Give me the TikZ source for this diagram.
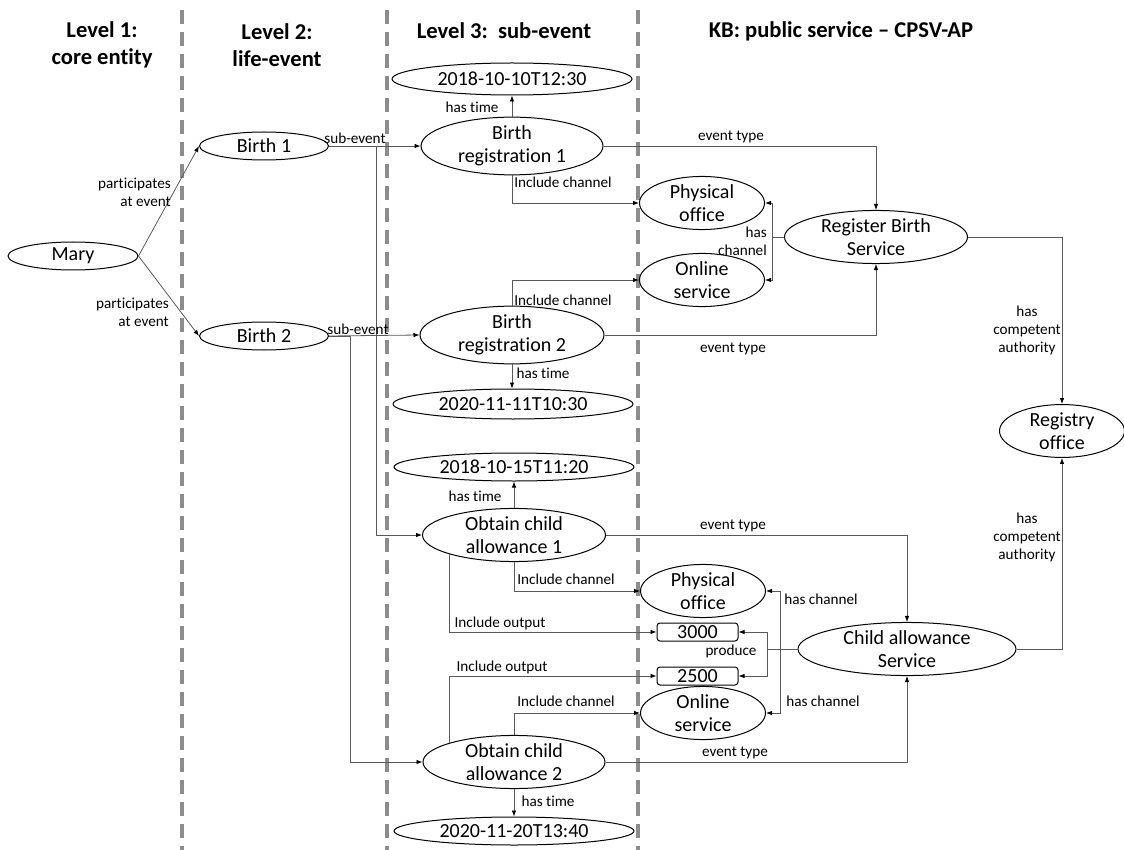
\documentclass[tikz,border=0pt]{standalone}
\usepackage{fontspec}
\setmainfont{Carlito}[Ligatures={NoCommon}]
\usetikzlibrary{shapes.geometric,arrows.meta,calc}
\begin{document}
\begin{tikzpicture}[x=1pt,y=-1pt,
  ev/.style={ellipse,draw=black,line width=1pt,inner sep=0pt,align=center,
     font=\fontsize{20}{23.5}\selectfont},
  valbox/.style={rectangle,rounded corners=3pt,draw=black,line width=1pt,inner sep=0pt,
     minimum width=81pt,minimum height=18pt,font=\fontsize{20}{23.5}\selectfont},
  lbl/.style={inner sep=0pt,align=center,font=\fontsize{15.2}{18}\selectfont},
  hdr/.style={inner sep=0pt,align=center,font=\fontsize{22.6}{27}\selectfont\bfseries},
  arr/.style={draw=black!65,line width=0.8pt,-{Latex[length=6pt,width=4.5pt,color=black]}},
  ln/.style={draw=black!65,line width=0.8pt},
  sep/.style={draw=black!45,line width=3.5pt,dash pattern=on 14pt off 8pt}
]
\useasboundingbox (0,0) rectangle (1124,850);

% separators
\draw[sep] (182,10) -- (182,850);
\draw[sep] (387,10) -- (387,850);
\draw[sep] (638,10) -- (638,850);

% headers
\node[hdr] (h1) at (102,45) {Level 1:\\core entity};
\node[hdr] (h2) at (277,45) {Level 2:\\life-event};
\node[hdr] (h3) at (504,31) {Level 3:\ \ sub-event};
\node[hdr] (h4) at (841,31) {KB: public service -- CPSV-AP};

% nodes
\node[ev,minimum width=130pt,minimum height=28pt] (mary) at (73,256) {Mary};
\node[ev,minimum width=129pt,minimum height=28pt] (b1) at (264,146) {Birth 1};
\node[ev,minimum width=129pt,minimum height=28pt] (b2) at (264,336) {Birth 2};

\node[ev,minimum width=240pt,minimum height=32pt] (t1) at (512,79) {2018-10-10T12:30};
\node[ev,minimum width=182pt,minimum height=44pt] (br1) at (512,146) {Birth\\registration 1};
\node[ev,minimum width=125pt,minimum height=44pt] (po1) at (702,203) {Physical\\office};
\node[ev,minimum width=125pt,minimum height=45pt] (os1) at (702,280) {Online\\service};
\node[ev,minimum width=183pt,minimum height=47pt] (rbs) at (876,237) {Register Birth\\Service};
\node[ev,minimum width=184pt,minimum height=44pt] (br2) at (512,335) {Birth\\registration 2};
\node[ev,minimum width=240pt,minimum height=30pt] (t2) at (513,404) {2020-11-11T10:30};
\node[ev,minimum width=125pt,minimum height=50pt] (ro) at (1062,431) {Registry\\office};

\node[ev,minimum width=240pt,minimum height=28pt] (t3) at (514,467) {2018-10-15T11:20};
\node[ev,minimum width=183pt,minimum height=46pt] (oca1) at (514,535) {Obtain child\\allowance 1};
\node[ev,minimum width=125pt,minimum height=45pt] (po2) at (703,591) {Physical\\office};
\node[valbox] (v3000) at (697.5,632) {3000};
\node[valbox] (v2500) at (697.5,676) {2500};
\node[ev,minimum width=218pt,minimum height=47pt] (cas) at (907,649) {Child allowance\\Service};
\node[ev,minimum width=125pt,minimum height=45pt] (os2) at (703,713) {Online\\service};
\node[ev,minimum width=182pt,minimum height=45pt] (oca2) at (514,762) {Obtain child\\allowance 2};
\node[ev,minimum width=240pt,minimum height=28pt] (t4) at (514,831) {2020-11-20T13:40};

% junction coordinates
\coordinate (j1) at (376,146);
\coordinate (j2) at (350,336);

% level 1 -> level 2
\draw[arr] (mary.east) -- (b1.west);
\draw[arr] (mary.east) -- (b2.west);
\node[lbl,align=right,anchor=east] (lp1) at (171,192) {participates\\at event};
\node[lbl,align=right,anchor=east] (lp2) at (169,312) {participates\\at event};

% sub-event
\draw[arr] (b1.east) -- (br1.west);
\draw[arr] (b1.east) -| (j1) |- (oca1.west);
\node[lbl] (ls1) at (355,138) {sub-event};
\draw[arr] (b2.east) -- (br2.west);
\draw[arr] (b2.east) -| (j2) |- (oca2.west);
\node[lbl] (ls2) at (358,329) {sub-event};

% birth registration 1
\draw[arr] (br1.north) -- (br1.north |- t1.south);
\node[lbl] (lt1) at (472,107) {has time};
\draw[arr] (br1.south) |- (po1.west);
\node[lbl] (lc1) at (563,182) {Include channel};
\draw[arr] (br1.east) -| (rbs.north);
\node[lbl] (le1) at (731,137) {event type};

% birth registration 2
\draw[arr] (br2.north) |- (os1.west);
\node[lbl] (lc2) at (563,300) {Include channel};
\draw[arr] (br2.east) -| (rbs.south);
\node[lbl] (le2) at (733,349) {event type};
\draw[arr] (br2.south) -- (br2.south |- t2.north);
\node[lbl] (lt2) at (543,373) {has time};

% register birth service
\draw[arr] (rbs.west) -- ++(-12,0) |- (po1.east);
\draw[arr] (rbs.west) -- ++(-12,0) |- (os1.east);
\node[lbl,align=right,anchor=east] (lhc1) at (767,241) {has\\channel};
\draw[arr] (rbs.east) -| (ro.north);
\node[lbl] (lca1) at (1027,330) {has\\competent\\authority};

% obtain child allowance 1
\draw[arr] (oca1.north) -- (oca1.north |- t3.south);
\node[lbl] (lt3) at (475,496) {has time};
\draw[arr] (oca1.south) |- (po2.west);
\node[lbl] (lc3) at (566,579) {Include channel};
\draw[arr] (oca1.south west) |- (v3000.west);
\node[lbl] (lo1) at (500,623) {Include output};
\draw[arr] (oca1.east) -| (cas.north);
\node[lbl] (le3) at (733,526) {event type};

% obtain child allowance 2
\draw[arr] (oca2.north west) |- (v2500.west);
\node[lbl] (lo2) at (502,667) {Include output};
\draw[arr] (oca2.north) |- (os2.west);
\node[lbl] (lc4) at (566,701) {Include channel};
\draw[arr] (oca2.east) -| (cas.south);
\node[lbl] (le4) at (735,753) {event type};
\draw[arr] (oca2.south) -- (oca2.south |- t4.north);
\node[lbl] (lt4) at (548,801) {has time};

% child allowance service
\draw[arr] (cas.west) -- ++(-30,0) |- (v3000.east);
\draw[arr] (cas.west) -- ++(-30,0) |- (v2500.east);
\node[lbl] (lpr) at (731,651) {produce};
\draw[arr] (cas.west) -- ++(-17,0) |- (po2.east);
\draw[arr] (cas.west) -- ++(-17,0) |- (os2.east);
\node[lbl] (lhc2) at (821,599) {has channel};
\node[lbl] (lhc3) at (823,701) {has channel};
\draw[arr] (cas.east) -| (ro.south);
\node[lbl] (lca2) at (1027,537) {has\\competent\\authority};
\end{tikzpicture}
\end{document}
